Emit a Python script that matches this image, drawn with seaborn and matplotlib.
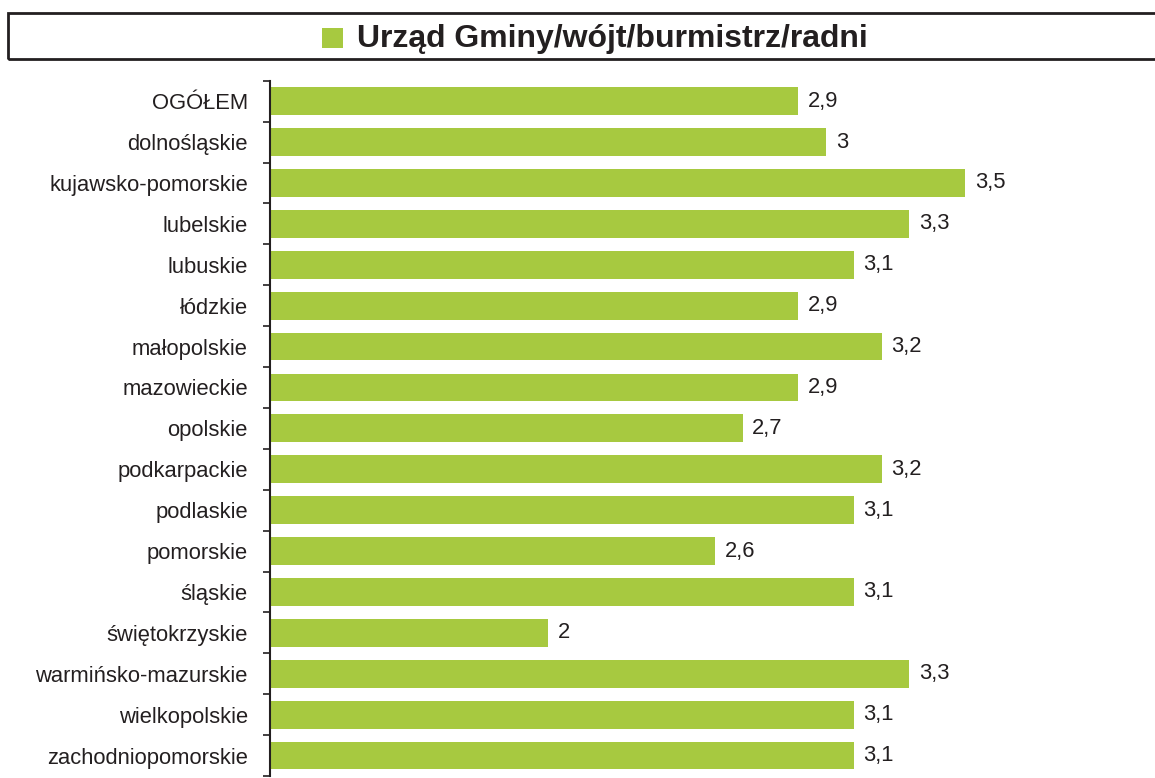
import matplotlib
matplotlib.use("Agg")
import matplotlib.pyplot as plt
from matplotlib.patches import Rectangle
import seaborn as sns
import pandas as pd

regions = [
    "OGÓŁEM", "dolnośląskie", "kujawsko-pomorskie", "lubelskie", "lubuskie",
    "łódzkie", "małopolskie", "mazowieckie", "opolskie", "podkarpackie",
    "podlaskie", "pomorskie", "śląskie", "świętokrzyskie",
    "warmińsko-mazurskie", "wielkopolskie", "zachodniopomorskie",
]
scores = [2.9, 3.0, 3.5, 3.3, 3.1, 2.9, 3.2, 2.9, 2.7, 3.2,
          3.1, 2.6, 3.1, 2.0, 3.3, 3.1, 3.1]
title = "Urząd Gminy/wójt/burmistrz/radni"

GREEN = "#A7C940"
INK = "#231F20"

sns.set_theme(style="white")
plt.rcParams["font.family"] = ["Liberation Sans", "DejaVu Sans"]

W, H = 1155, 778
fig = plt.figure(figsize=(W / 100, H / 100), dpi=100)
ax = fig.add_axes([270 / W, 2 / H, 1 - 270 / W, (776 - 80.7) / H])

df = pd.DataFrame({"region": regions, "score": scores})
sns.barplot(data=df, x="score", y="region", orient="h", color=GREEN,
            width=0.68, saturation=1, ax=ax, edgecolor="none")

ax.set_xlim(1, 1 + (W - 270) / 278)
ax.set_ylim(len(regions) - 0.5, -0.5)
ax.set_xlabel("")
ax.set_ylabel("")
ax.set_xticks([])

for side in ("top", "right", "bottom"):
    ax.spines[side].set_visible(False)
ax.spines["left"].set_color(INK)
ax.spines["left"].set_linewidth(1.5)

# tick marks sit between the categories
ax.set_yticks([i - 0.5 for i in range(len(regions) + 1)], minor=True)
ax.tick_params(axis="y", which="minor", length=5, width=1.2, color=INK,
               direction="out", left=True)
ax.tick_params(axis="y", which="major", length=0, pad=16,
               labelsize=15.8, labelcolor=INK)

labels = [f"{v:g}".replace(".", ",") for v in scores]
ax.bar_label(ax.containers[0], labels=labels, padding=7,
             fontsize=15.8, color=INK)

# boxed header with a legend swatch
fig.patches.append(Rectangle((8 / W, 1 - 59 / H), (W + 10) / W, 46 / H,
                             transform=fig.transFigure, fill=False,
                             edgecolor=INK, linewidth=2, clip_on=False))
fig.patches.append(Rectangle((322 / W, 1 - 48 / H), 21 / W, 20 / H,
                             transform=fig.transFigure, facecolor=GREEN,
                             edgecolor="none"))
fig.text(357 / W, 1 - 39 / H, title, fontsize=23, fontweight="bold",
         color=INK, ha="left", va="center")

fig.savefig("out.png", dpi=100, facecolor="white")
